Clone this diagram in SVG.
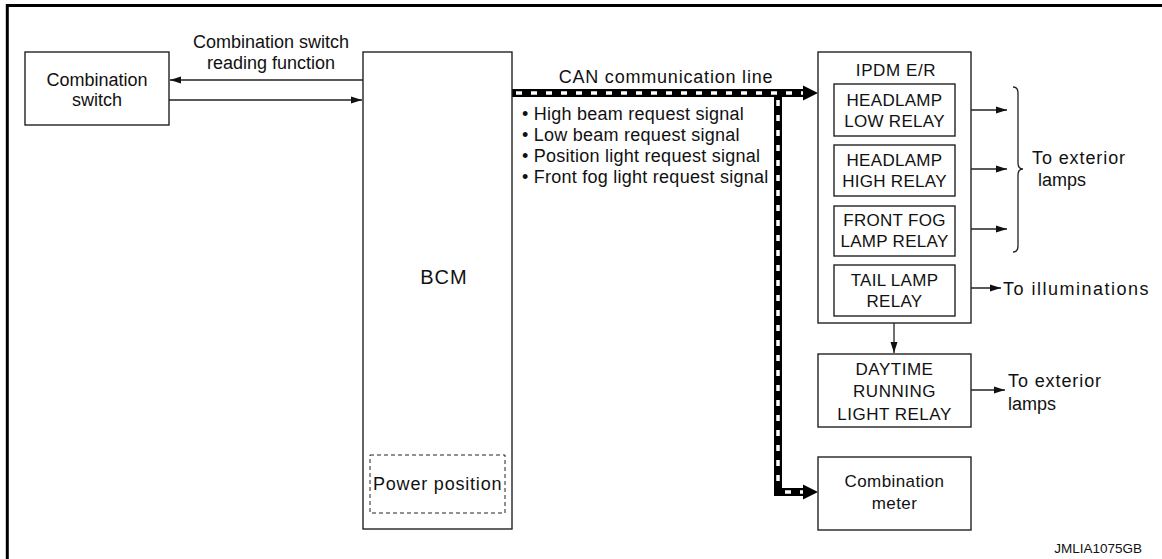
<svg xmlns="http://www.w3.org/2000/svg" width="1162" height="559" viewBox="0 0 1162 559">
<style>
text{font-family:"Liberation Sans",Arial,sans-serif;font-size:17px;fill:#111}
.c{text-anchor:middle}
.f18{font-size:18px}
.box{fill:#fff;stroke:#222;stroke-width:1.4}
.ln{fill:none;stroke:#222;stroke-width:1.3}
.can{fill:none;stroke:#000;stroke-width:8}
.cand{fill:none;stroke:#fff;stroke-width:3.5;stroke-dasharray:6 9}
.sig{font-size:18px;letter-spacing:0.25px}
.wide{font-size:18px;letter-spacing:0.9px}
.rl{letter-spacing:0.3px}
</style>
<defs>
<marker id="ah" markerWidth="12" markerHeight="8" refX="11" refY="4" orient="auto" markerUnits="userSpaceOnUse">
<path d="M0,0.5 L11,4 L0,7.5 Z" fill="#111"/>
</marker>
</defs>
<rect width="1162" height="559" fill="#fff"/>
<g id="frame">
<line x1="6" y1="5.5" x2="1162" y2="5.5" stroke="#000" stroke-width="3"/>
<line x1="7.3" y1="4" x2="7.3" y2="559" stroke="#000" stroke-width="3"/>
</g>
<g id="connectors">
<line class="ln" x1="363" y1="80" x2="170" y2="80" marker-end="url(#ah)"/>
<line class="ln" x1="169" y1="100" x2="362" y2="100" marker-end="url(#ah)"/>
<line class="ln" x1="955" y1="110" x2="1007" y2="110" marker-end="url(#ah)"/>
<line class="ln" x1="955" y1="169" x2="1007" y2="169" marker-end="url(#ah)"/>
<line class="ln" x1="955" y1="229" x2="1007" y2="229" marker-end="url(#ah)"/>
<line class="ln" x1="955" y1="288" x2="1001" y2="288" marker-end="url(#ah)"/>
<line class="ln" x1="894" y1="323" x2="894" y2="353" marker-end="url(#ah)"/>
<line class="ln" x1="971" y1="390" x2="1005" y2="390" marker-end="url(#ah)"/>
<path class="ln" d="M1013,87 Q1018,87 1018,93 L1018,163 Q1018,169 1023,169 Q1018,169 1018,175 L1018,246 Q1018,252 1013,252"/>
<path class="can" d="M512,93 L804,93 M778,93 L778,492 L804,492"/>
<path class="cand" d="M516,93 L804,93"/>
<path class="cand" d="M778,100 L778,486"/>
<path class="cand" d="M785,492 L804,492"/>
<path d="M803,85.5 L818,93 L803,100.5 Z" fill="#000"/>
<path d="M803,484.5 L818,492 L803,499.5 Z" fill="#000"/>
</g>
<g id="combination-switch">
<rect class="box" x="25" y="52" width="144" height="73"/>
<text class="c f18" x="97" y="86">Combination</text>
<text class="c f18" x="97" y="106">switch</text>
</g>
<g id="label-reading">
<text class="c f18" x="271" y="48">Combination switch</text>
<text class="c f18" x="271" y="69">reading function</text>
</g>
<g id="bcm">
<rect class="box" x="363" y="52" width="149" height="477"/>
<text class="c" x="444" y="284" style="font-size:20px;letter-spacing:1px">BCM</text>
<rect x="370" y="455" width="135" height="58" fill="none" stroke="#222" stroke-width="1" stroke-dasharray="4 3"/>
<text x="373" y="490" style="font-size:18px;letter-spacing:0.8px">Power position</text>
</g>
<g id="can-labels">
<text class="c" x="666" y="83" style="font-size:18px;letter-spacing:0.8px">CAN communication line</text>
<text class="sig" x="522" y="120">• High beam request signal</text>
<text class="sig" x="522" y="141">• Low beam request signal</text>
<text class="sig" x="522" y="162">• Position light request signal</text>
<text class="sig" x="522" y="183">• Front fog light request signal</text>
</g>
<g id="ipdm">
<rect class="box" x="818" y="52" width="153" height="271"/>
<text class="c" x="896" y="76" letter-spacing="0.6">IPDM E/R</text>
</g>
<g id="headlamp-low">
<rect class="box" x="834" y="84" width="121" height="52"/>
<text class="c rl" x="894.5" y="106">HEADLAMP</text>
<text class="c rl" x="894.5" y="127">LOW RELAY</text>
</g>
<g id="headlamp-high">
<rect class="box" x="834" y="145" width="121" height="51"/>
<text class="c rl" x="894.5" y="166">HEADLAMP</text>
<text class="c rl" x="894.5" y="187">HIGH RELAY</text>
</g>
<g id="front-fog">
<rect class="box" x="834" y="206" width="121" height="50"/>
<text class="c rl" x="894.5" y="226">FRONT FOG</text>
<text class="c rl" x="894.5" y="247">LAMP RELAY</text>
</g>
<g id="tail-lamp">
<rect class="box" x="834" y="265" width="121" height="51"/>
<text class="c rl" x="894.5" y="286">TAIL LAMP</text>
<text class="c rl" x="894.5" y="307">RELAY</text>
</g>
<g id="to-exterior-1">
<text class="wide" x="1032" y="164">To exterior</text>
<text class="f18" x="1038" y="186">lamps</text>
</g>
<g id="to-illuminations">
<text x="1003" y="295" style="font-size:18px;letter-spacing:1.5px">To illuminations</text>
</g>
<g id="drl">
<rect class="box" x="818" y="354" width="153" height="73"/>
<text class="c" x="894.5" y="375" letter-spacing="0.5">DAYTIME</text>
<text class="c" x="894.5" y="397" letter-spacing="0.5">RUNNING</text>
<text class="c" x="894.5" y="420" letter-spacing="0.5">LIGHT RELAY</text>
</g>
<g id="to-exterior-2">
<text class="wide" x="1008" y="387">To exterior</text>
<text class="f18" x="1008" y="410">lamps</text>
</g>
<g id="combination-meter">
<rect class="box" x="818" y="457" width="153" height="73"/>
<text class="c" x="894.5" y="487" letter-spacing="0.4">Combination</text>
<text class="c" x="894.5" y="509" letter-spacing="0.4">meter</text>
</g>
<text x="1142" y="553" text-anchor="end" style="font-size:13.5px">JMLIA1075GB</text>
</svg>
